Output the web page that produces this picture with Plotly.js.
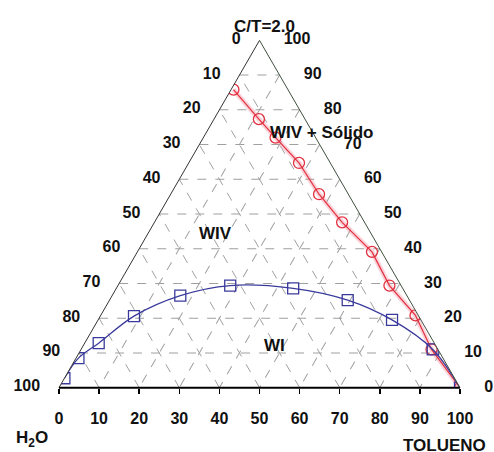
<!DOCTYPE html>
<html>
<head>
<meta charset="utf-8">
<script src="https://cdn.plot.ly/plotly-3.0.1.min.js"></script>
<style>html,body{margin:0;padding:0;background:#fff;}#chart{width:494px;height:452px;}</style>
</head>
<body>
<div id="chart"></div>
<script>
// Ternary components: a = C/T (apex), b = H2O (bottom-left), c = TOLUENO (bottom-right)
var solidA = [85.8, 77.3, 72.0, 64.7, 55.7, 47.6, 39.1, 29.4, 20.8, 11.0, 0];
var solidB = [13.6, 11.5, 10.0, 7.8, 7.3, 5.6, 2.4, 2.9, 0.7, 1.6, 0];
var solidC = [0.6, 11.2, 18.0, 27.5, 37.0, 46.8, 58.5, 67.7, 78.5, 87.4, 100];

var binodalA = [2.7, 8.5, 12.8, 20.6, 26.5, 29.4, 28.6, 25.2, 19.5, 11.0, 0];
var binodalB = [97.3, 90.9, 83.7, 71.0, 56.5, 42.6, 27.3, 15.4, 7.2, 1.3, 0];
var binodalC = [0.0, 0.6, 3.5, 8.4, 17.0, 28.0, 44.1, 59.4, 73.3, 87.7, 100];

var tickVals = [0, 10, 20, 30, 40, 50, 60, 70, 80, 90, 100];
var tickText = ['100', '90', '80', '70', '60', '50', '40', '30', '20', '10', '0'];      // edge labels (complement)
var bottomText = ['0', '10', '20', '30', '40', '50', '60', '70', '80', '90', '100'];   // TOLUENO along bottom edge

var W = 494, H = 452;
var m = {l: 58.5, r: 33.5, t: 40, b: 64, pad: 0};
function px(x) { return (x - m.l) / (W - m.l - m.r); }
function py(y) { return 1 - (y - m.t) / (H - m.t - m.b); }

var FONT = 'Liberation Sans, Arial, sans-serif';
var tickFont = {family: FONT, size: 16, color: '#111', weight: 'bold'};
var RED = '#e2303e', BLUE = '#3a3a9c';
var CLEAR = 'rgba(0,0,0,0)';
var PAD = '\u00A0\u00A0\u00A0\u00A0\u00A0';
var rightText = tickText.map(function (t) { return PAD + t; });

var axisCommon = {
  tickmode: 'array', tickvals: tickVals, ticktext: tickText,
  tickfont: tickFont, showgrid: true, gridcolor: '#a0a0a0', gridwidth: 1,
  griddash: 'dash', min: 0, title: {text: ''}
};

var traces = [
  {type: 'scatterternary', mode: 'lines', a: solidA, b: solidB, c: solidC,
   line: {color: 'rgba(240,130,150,0.35)', width: 5}, hoverinfo: 'skip', showlegend: false},
  {type: 'scatterternary', mode: 'lines+markers', a: solidA, b: solidB, c: solidC,
   line: {color: RED, width: 1.2},
   marker: {symbol: 'circle-open', size: 11, color: RED, line: {width: 1.3, color: RED}},
   showlegend: false},
  {type: 'scatterternary', mode: 'lines+markers', a: binodalA, b: binodalB, c: binodalC,
   line: {color: BLUE, width: 1.3, shape: 'spline', smoothing: 1},
   marker: {symbol: 'square-open', size: 11, color: BLUE, line: {width: 1.3, color: BLUE}},
   showlegend: false},
  // empty cartesian trace so the bottom TOLUENO scale (vertical ticks) is drawn
  {type: 'scatter', x: [], y: [], hoverinfo: 'skip', showlegend: false}
];

function ann(text, x, y, size) {
  return {text: text, xref: 'paper', yref: 'paper', x: px(x), y: py(y),
          xanchor: 'center', yanchor: 'middle', showarrow: false,
          font: {family: FONT, size: size || 17, color: '#111', weight: 'bold'}};
}

var layout = {
  width: W, height: H, margin: m, paper_bgcolor: '#fff', plot_bgcolor: CLEAR, showlegend: false,
  xaxis: {range: [0, 100], domain: [0, 1], tickmode: 'array', tickvals: tickVals, ticktext: bottomText,
          ticks: 'outside', ticklen: 5, tickwidth: 1.5, tickcolor: '#000', tickfont: tickFont,
          ticklabelstandoff: 11, showgrid: false, zeroline: false, showline: false, fixedrange: true},
  yaxis: {range: [0, 1], domain: [0, 1], visible: false, fixedrange: true},
  ternary: {
    domain: {x: [0, 1], y: [0, 1]}, sum: 100, bgcolor: '#fff',
    aaxis: Object.assign({}, axisCommon, {linecolor: '#333', linewidth: 1, ticks: 'outside', ticklen: 16, tickcolor: CLEAR}),
    baxis: Object.assign({}, axisCommon, {linecolor: '#000', linewidth: 2, ticks: '', showticklabels: false}),
    caxis: Object.assign({}, axisCommon, {ticktext: rightText, linecolor: '#3f4f3f', linewidth: 1, ticks: ''})
  },
  annotations: [
    ann('C/T=2.0', 265, 26),
    ann('H<sub>2</sub>O', 31, 439),
    ann('TOLUENO', 445, 445),
    ann('WIV + Sólido', 322, 132),
    ann('WIV', 215, 233),
    ann('WI', 275, 345)
  ]
};

Plotly.newPlot('chart', traces, layout, {displayModeBar: false, staticPlot: true});
</script>
</body>
</html>
